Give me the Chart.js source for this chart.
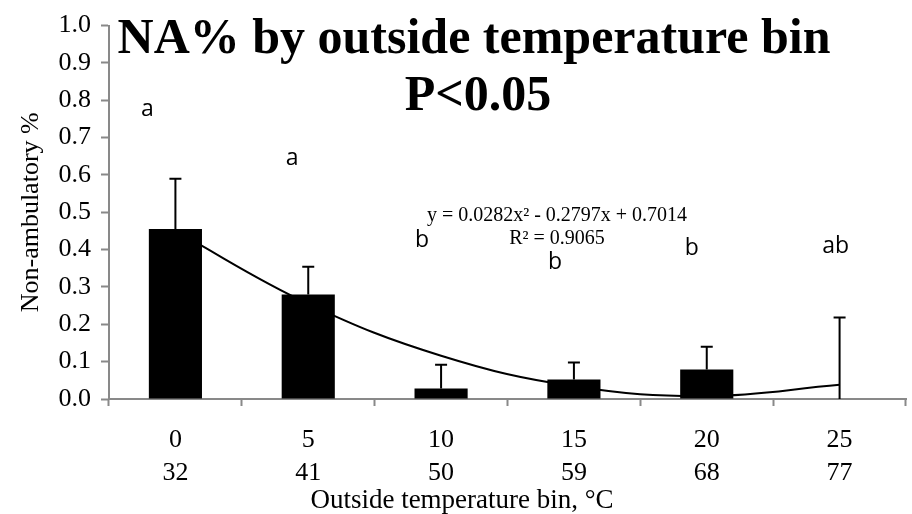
<!DOCTYPE html>
<html>
<head>
<meta charset="utf-8">
<script src="https://cdn.jsdelivr.net/npm/chart.js@4.4.1/dist/chart.umd.min.js"></script>
<style>
    html, body { margin: 0; padding: 0; background: #fff; }
    #naChart { display: block; }
</style>
</head>
<body>
<canvas id="naChart" width="912" height="514"></canvas>
<script>
// chart values
const tempC = ['0', '5', '10', '15', '20', '25'];
const tempF = ['32', '41', '50', '59', '68', '77'];
const naPct = [0.455, 0.28, 0.028, 0.052, 0.079, 0];
const naErr = [0.135, 0.074, 0.064, 0.046, 0.061, 0.218];
const trendVals = [0.45, 0.255, 0.116, 0.034, 0.008, 0.038];
const groupLetters = ['a', 'a', 'b', 'b', 'b', 'ab'];
const titleLines = ['NA% by outside temperature bin', 'P<0.05'];
const trendText = ['y = 0.0282x\u00B2 - 0.2797x + 0.7014', 'R\u00B2 = 0.9065'];
const xTitle = 'Outside temperature bin, \u00B0C';

var naChart = (function(){
    "use strict";

    const AXIS_GREY = '#898989';
    const SERIF = '"Liberation Serif", "Times New Roman", serif';

    // where the letters sit: [pixel shift from bar centre, height in axis units]
    const letterSpots = [[-28, 0.775], [-16, 0.645], [-19, 0.424], [-19, 0.367], [-15, 0.404], [-4, 0.409]];

    const init = ()=>{
        Chart.defaults.color = '#000';
        Chart.defaults.font.family = SERIF;

        let ctx = document.getElementById('naChart').getContext('2d');
        new Chart(ctx, {
            type: 'bar',
            data: {
                labels: tempC.map((c, i)=>[c, tempF[i]]), // two rows: degC and degF
                datasets: [{
                    type: 'line',
                    data: trendVals,
                    borderColor: '#000',
                    borderWidth: 2,
                    pointRadius: 0,
                    tension: 0.4,
                    order: 0
                }, {
                    data: naPct,
                    backgroundColor: '#000',
                    barPercentage: 0.4,
                    categoryPercentage: 1,
                    order: 1
                }]
            },
            options: {
                responsive: false,
                animation: false,
                layout: { padding: { top: 17, right: 6, left: 0, bottom: 0 } },
                plugins: {
                    legend: { display: false },
                    tooltip: { enabled: false }
                },
                scales: {
                    x: {
                        grid: { display: true, drawOnChartArea: false, offset: true, tickLength: 7, tickColor: AXIS_GREY, tickWidth: 2 },
                        border: { color: AXIS_GREY, width: 2 },
                        ticks: { font: { size: 26, lineHeight: '33px' }, padding: 18, maxRotation: 0 },
                        afterFit: (scale)=>{ scale.height = 115; }
                    },
                    y: {
                        min: 0,
                        max: 1,
                        grid: { drawOnChartArea: false, tickLength: 8, tickColor: AXIS_GREY, tickWidth: 2 },
                        border: { color: AXIS_GREY, width: 2 },
                        ticks: {
                            stepSize: 0.1,
                            font: { size: 26 },
                            padding: 10,
                            callback: (v)=>v.toFixed(1)
                        },
                        title: {
                            display: true,
                            text: 'Non-ambulatory %',
                            font: { size: 26, lineHeight: 1.2 },
                            padding: { top: 16, bottom: 0 }
                        },
                        afterFit: (scale)=>{ scale.width = 109; }
                    }
                }
            },
            plugins: [errorBars, annotations]
        });
    };

    /**
     * Upper error whiskers drawn from the bar top using the chart's own scales
     */
    const errorBars = {
        id: 'errorBars',
        afterDatasetsDraw: (chart)=>{
            const {ctx, scales: {x, y}} = chart;
            ctx.save();
            ctx.strokeStyle = '#000';
            ctx.lineWidth = 2;
            naPct.forEach((val, i)=>{
                let px = x.getPixelForValue(i);
                let yBase = y.getPixelForValue(val);
                let yTop = y.getPixelForValue(val + naErr[i]);
                ctx.beginPath();
                ctx.moveTo(px, yBase);
                ctx.lineTo(px, yTop);
                ctx.moveTo(px - 6, yTop);
                ctx.lineTo(px + 6, yTop);
                ctx.stroke();
            });
            ctx.restore();
        }
    };

    /**
     * Title, group letters, trendline equation and the x axis title
     * (the x title sits left of the plot centre in the original, so it is drawn here)
     */
    const annotations = {
        id: 'annotations',
        afterDraw: (chart)=>{
            const {ctx, scales: {x, y}} = chart;
            ctx.save();
            ctx.fillStyle = '#000';
            ctx.textAlign = 'center';
            ctx.textBaseline = 'alphabetic';

            ctx.font = 'bold 50px ' + SERIF;
            ctx.fillText(titleLines[0], 474, 53);
            ctx.fillText(titleLines[1], 478, 110);

            ctx.textBaseline = 'middle';
            ctx.font = '23px "Open Sans", "Liberation Sans", sans-serif';
            groupLetters.forEach((letter, i)=>{
                let spot = letterSpots[i];
                ctx.fillText(letter, x.getPixelForValue(i) + spot[0], y.getPixelForValue(spot[1]));
            });

            ctx.font = '20px ' + SERIF;
            ctx.fillText(trendText[0], 557, 216);
            ctx.fillText(trendText[1], 557, 239);

            ctx.font = '27px ' + SERIF;
            ctx.fillText(xTitle, 462, 501);
            ctx.restore();
        }
    };

    return {
        init
    }
})();

naChart.init();
</script>
</body>
</html>
